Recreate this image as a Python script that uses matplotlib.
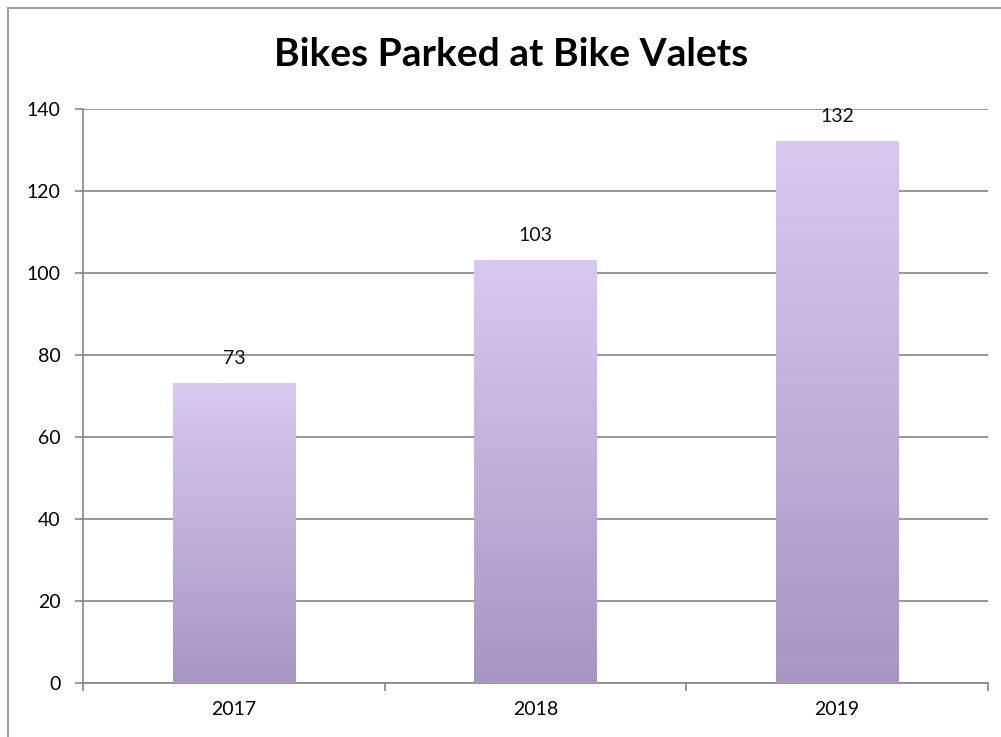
import numpy as np
import matplotlib.pyplot as plt
from matplotlib.colors import LinearSegmentedColormap
from matplotlib.patches import Rectangle

# Data
years = ['2017', '2018', '2019']
bikes = [73, 103, 132]

plt.rcParams['font.family'] = ['Lato', 'DejaVu Sans']

fig = plt.figure(figsize=(10.01, 7.37), dpi=100)

# Outer chart border (runs off the right and bottom edges)
fig.patches.append(Rectangle((8 / 1001, -0.1), 1.2, (737 - 8) / 737 + 0.1,
                             transform=fig.transFigure, fill=False,
                             edgecolor='#a0a0a0', linewidth=1.5))

ax = fig.add_axes([83 / 1001, 1 - 683 / 737, (988 - 83) / 1001, (683 - 109) / 737])

x = np.arange(len(years))
bar_w = 0.405
grad = LinearSegmentedColormap.from_list('lav', ['#a796c2', '#d9c9f1'])
gradient = np.linspace(0, 1, 256).reshape(-1, 1)

bars = ax.bar(x, bikes, width=bar_w, color='none', zorder=3)
for bar, v in zip(bars, bikes):
    x0 = bar.get_x()
    ax.imshow(gradient, cmap=grad, origin='lower', aspect='auto',
              extent=[x0, x0 + bar_w, 0, v], zorder=3)
    ax.text(bar.get_x() + bar_w / 2, v + 4, str(v), ha='center', va='bottom',
            fontsize=14, color='#111111')

ax.set_xlim(-0.5, len(years) - 0.5)
ax.set_ylim(0, 140)
ax.set_yticks(range(0, 141, 20))
ax.set_xticks(x)
ax.set_xticklabels(years)
ax.set_xticks(np.arange(-0.5, len(years), 1), minor=True)

ax.grid(axis='y', color='#858585', linewidth=1.2, zorder=0)
for side in ['top', 'right']:
    ax.spines[side].set_visible(False)
for side in ['left', 'bottom']:
    ax.spines[side].set_color('#858585')
    ax.spines[side].set_linewidth(1.2)

ax.tick_params(axis='y', length=6, color='#858585', width=1.2, labelsize=14, pad=10)
ax.tick_params(axis='x', which='major', length=0, labelsize=14, pad=13)
ax.tick_params(axis='x', which='minor', length=6, color='#858585', width=1.2)

fig.text(511 / 1001, 1 - 55 / 737, 'Bikes Parked at Bike Valets', ha='center',
         va='center', fontsize=28, fontweight='bold')

plt.savefig('out.png', dpi=100)
